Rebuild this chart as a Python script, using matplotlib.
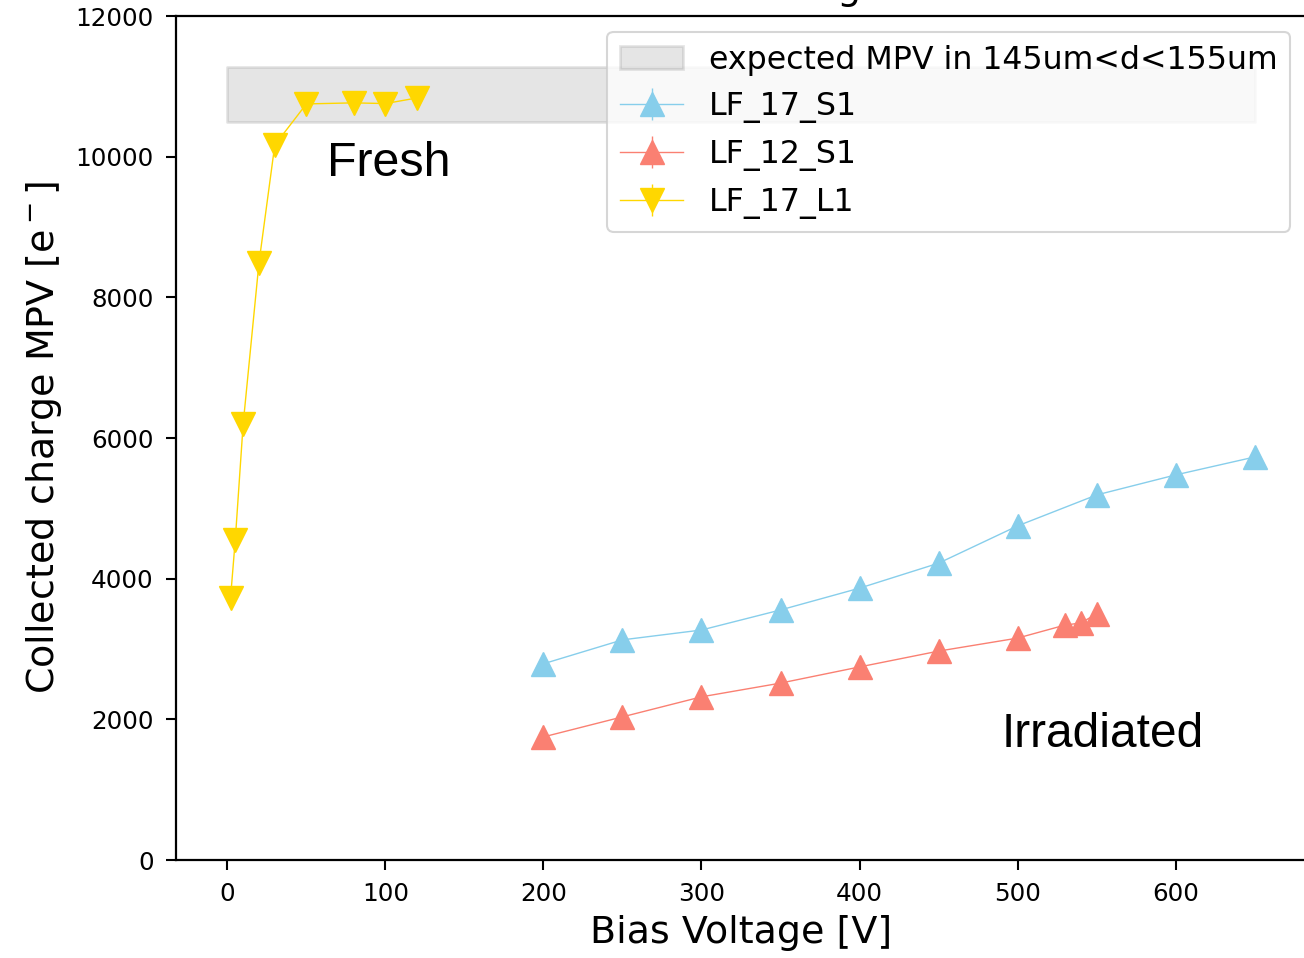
import matplotlib
matplotlib.use("Agg")
import matplotlib.pyplot as plt

# bias scans: voltage [V], collected charge MPV [e-]
v_17_S1 = [200, 250, 300, 350, 400, 450, 500, 550, 600, 650]
q_17_S1 = [2790, 3130, 3270, 3555, 3865, 4220, 4750, 5190, 5475, 5730]
e_17_S1 = [0, 0, 0, 0, 0, 0, 0, 0, 0, 0]

v_12_S1 = [200, 250, 300, 350, 400, 450, 500, 530, 540, 550]
q_12_S1 = [1750, 2035, 2320, 2515, 2745, 2970, 3155, 3340, 3370, 3500]
e_12_S1 = [0, 0, 0, 0, 0, 0, 0, 0, 0, 0]

v_17_L1 = [2, 5, 10, 20, 30, 50, 80, 100, 120]
q_17_L1 = [3725, 4550, 6200, 8490, 10165, 10750, 10765, 10755, 10835]
e_17_L1 = [0, 0, 0, 0, 0, 0, 0, 0, 0]

# expected MPV band for 145um < d < 155um
band_v = [0, 650]
band_lo = 10500
band_hi = 11270

W, H = 1304, 958
fig = plt.figure(figsize=(W / 100, H / 100), dpi=100)
ax = fig.add_axes([176 / W, (H - 860) / H, (1306 - 176) / W, (860 - 16) / H])

ax.fill_between(band_v, band_lo, band_hi, color="gray", alpha=0.2, lw=2,
                label="expected MPV in 145um<d<155um")

ms = 17
ax.errorbar(v_17_S1, q_17_S1, yerr=e_17_S1, marker="^", ms=ms, lw=1,
            color="skyblue", label="LF_17_S1")
ax.errorbar(v_12_S1, q_12_S1, yerr=e_12_S1, marker="^", ms=ms, lw=1,
            color="salmon", label="LF_12_S1")
ax.errorbar(v_17_L1, q_17_L1, yerr=e_17_L1, marker="v", ms=ms, lw=1,
            color="gold", label="LF_17_L1")

ax.text(63, 9720, "Fresh", fontsize=34.8, family="Liberation Sans")
ax.text(490, 1610, "Irradiated", fontsize=34.5, family="Liberation Sans")

ax.set_xlim(-32.5, 682.5)
ax.set_ylim(0, 12000)
ax.set_xlabel("Bias Voltage [V]", fontsize=27.4, labelpad=6)
ax.set_ylabel("Collected charge MPV [e$^-$]", fontsize=27.4, labelpad=8)
ax.set_title("Collected charge MPV", fontsize=27.4, pad=12, x=0.527)
ax.tick_params(labelsize=17.7, length=7, width=1.5, pad=9)
for s in ax.spines.values():
    s.set_linewidth(1.6)

leg = ax.legend(loc="upper right", fontsize=22.8)
leg.get_frame().set_linewidth(1.5)

fig.savefig("out.png", dpi=100)
